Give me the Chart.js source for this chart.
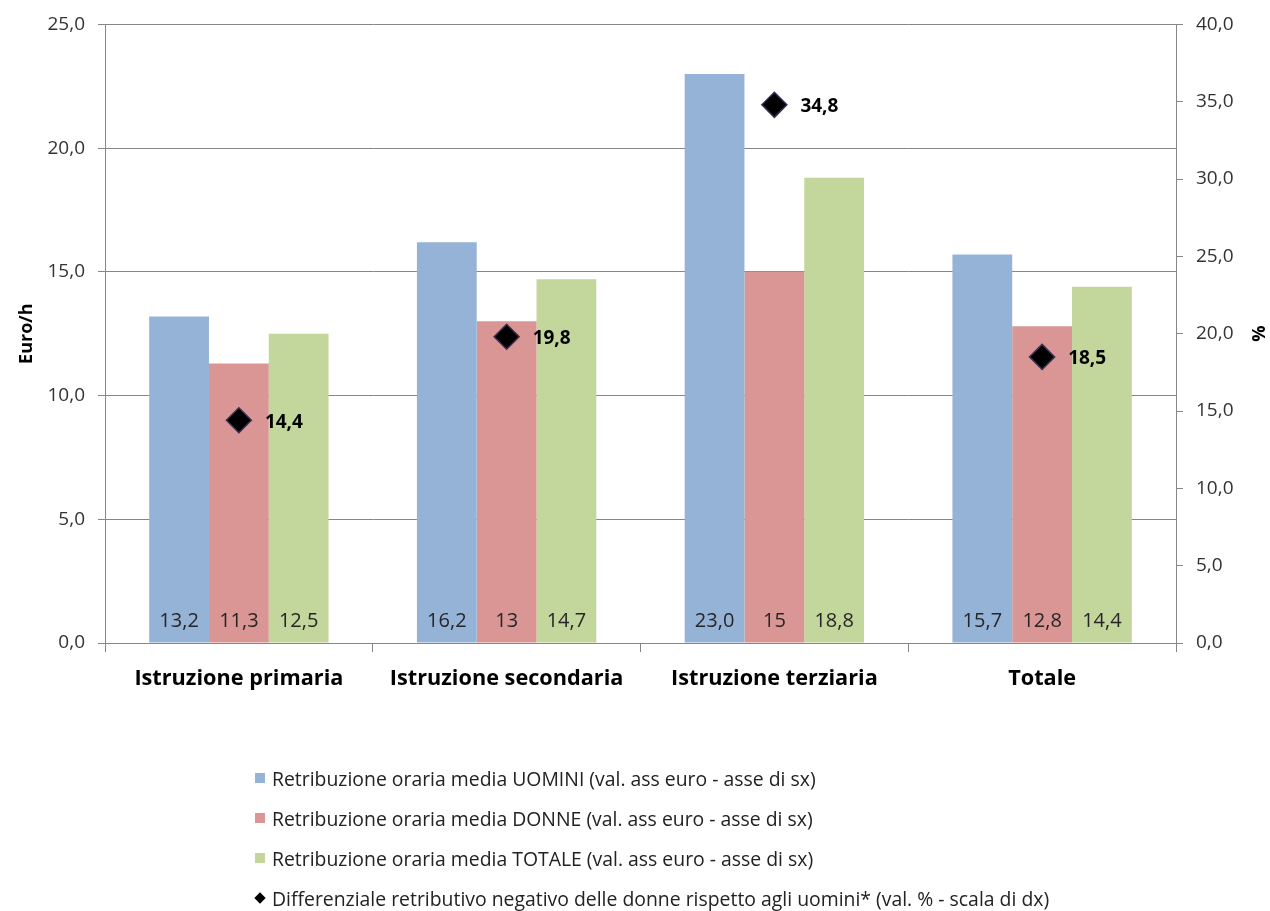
<!DOCTYPE html>
<html lang="it">
<head>
<meta charset="utf-8">
<title>Retribuzione oraria media per titolo di studio</title>
<script src="https://cdn.jsdelivr.net/npm/chart.js@4.4.1/dist/chart.umd.min.js"></script>
<style>
  html, body { margin: 0; padding: 0; background: #fff; }
  #wrap { position: relative; width: 1270px; height: 911px; }
  #chart { position: absolute; left: 0; top: 0; }
  #legend { position: absolute; left: 255px; top: 758px; font-family: "Open Sans", Lato, sans-serif; font-size: 19.4px; color: #222; }
  #legend .row { height: 40px; display: flex; align-items: center; white-space: nowrap; }
  #legend .sq { width: 10px; height: 10px; margin-right: 7px; flex: none; }
  #legend .dm { width: 8px; height: 8px; margin: 0 8px 0 1px; background: #000; transform: rotate(45deg); flex: none; }
</style>
</head>
<body>
<div id="wrap">
  <canvas id="chart" width="1270" height="911"></canvas>
  <div id="legend"></div>
</div>
<script>
// Categorie (titolo di studio)
const categories = ['Istruzione primaria', 'Istruzione secondaria', 'Istruzione terziaria', 'Totale'];

// Retribuzione oraria media (euro/h) – asse sinistro
const uomini = [13.2, 16.2, 23.0, 15.7];
const donne  = [11.3, 13, 15, 12.8];
const totale = [12.5, 14.7, 18.8, 14.4];

// Differenziale retributivo negativo delle donne (%) – asse destro
const differenziale = [14.4, 19.8, 34.8, 18.5];

// Etichette di serie
const seriesLabels = [
  'Retribuzione oraria media UOMINI (val. ass euro - asse di sx)',
  'Retribuzione oraria media DONNE (val. ass euro - asse di sx)',
  'Retribuzione oraria media TOTALE (val. ass euro - asse di sx)',
  'Differenziale retributivo negativo delle donne rispetto agli uomini* (val. % - scala di dx)'
];

// Assi
const leftAxis  = { min: 0, max: 25, step: 5, title: 'Euro/h' };
const rightAxis = { min: 0, max: 40, step: 5, title: '%' };

const FONT = '"Open Sans", Lato, sans-serif';
const GRID = '#868686';

const fmt1 = v => v.toFixed(1).replace('.', ',');
const fmtRaw = v => String(v).replace('.', ',');

// Valori scritti alla base delle colonne
const barLabels = {
  id: 'barLabels',
  afterDatasetsDraw(chart) {
    const ctx = chart.ctx;
    ctx.save();
    ctx.font = '20px ' + FONT;
    ctx.fillStyle = '#262626';
    ctx.textAlign = 'center';
    ctx.textBaseline = 'middle';
    chart.data.datasets.forEach((ds, i) => {
      if (ds.type === 'line') return;
      const meta = chart.getDatasetMeta(i);
      meta.data.forEach((el, j) => {
        const txt = ds.labelFormat(ds.data[j]);
        ctx.fillText(txt, el.x, el.base - 21);
      });
    });
    ctx.restore();
  }
};

// Valori accanto ai rombi
const pointLabels = {
  id: 'pointLabels',
  afterDatasetsDraw(chart) {
    const ctx = chart.ctx;
    ctx.save();
    ctx.font = 'bold 19px ' + FONT;
    ctx.fillStyle = '#000';
    ctx.textAlign = 'left';
    ctx.textBaseline = 'middle';
    chart.data.datasets.forEach((ds, i) => {
      if (ds.type !== 'line') return;
      const meta = chart.getDatasetMeta(i);
      meta.data.forEach((el, j) => {
        ctx.fillText(fmt1(ds.data[j]), el.x + 26, el.y + 2);
      });
    });
    ctx.restore();
  }
};

const chart = new Chart(document.getElementById('chart'), {
  type: 'bar',
  data: {
    labels: categories,
    datasets: [
      { label: seriesLabels[0], data: uomini, backgroundColor: '#95b3d7', yAxisID: 'y', order: 1, labelFormat: fmt1 },
      { label: seriesLabels[1], data: donne,  backgroundColor: '#d99694', yAxisID: 'y', order: 1, labelFormat: fmtRaw },
      { label: seriesLabels[2], data: totale, backgroundColor: '#c3d69b', yAxisID: 'y', order: 1, labelFormat: fmt1 },
      {
        type: 'line', label: seriesLabels[3], data: differenziale, yAxisID: 'y1', order: 0,
        showLine: false, pointStyle: 'rectRot', pointRadius: 12.5, pointHoverRadius: 12.5,
        backgroundColor: '#000', borderColor: '#3a3052', borderWidth: 1.5
      }
    ]
  },
  options: {
    responsive: false,
    animation: false,
    events: [],
    barPercentage: 1,
    categoryPercentage: 0.67,
    layout: { padding: { top: 22, bottom: 208, left: 0, right: 0 } },
    plugins: { legend: { display: false }, tooltip: { enabled: false } },
    scales: {
      x: {
        offset: true,
        grid: { offset: true, drawOnChartArea: false, drawTicks: true, tickLength: 9, color: GRID },
        border: { color: GRID, width: 1 },
        ticks: { font: { family: FONT, size: 21.7, weight: 'bold' }, color: '#000', padding: 14, maxRotation: 0 },
        afterFit(s) { s.height = 60; }
      },
      y: {
        position: 'left',
        min: leftAxis.min, max: leftAxis.max,
        ticks: { stepSize: leftAxis.step, callback: v => fmt1(v), font: { family: FONT, size: 19 }, color: '#333', padding: 13 },
        grid: { color: GRID, tickLength: 7 },
        border: { color: GRID, width: 1 },
        title: { display: true, text: leftAxis.title, font: { family: FONT, size: 18, weight: 'bold' }, color: '#000', padding: { top: 16, bottom: 0 } },
        afterFit(s) { s.width = 105; }
      },
      y1: {
        position: 'right',
        min: rightAxis.min, max: rightAxis.max,
        ticks: { stepSize: rightAxis.step, callback: v => fmt1(v), font: { family: FONT, size: 19 }, color: '#333', padding: 13 },
        grid: { drawOnChartArea: false, color: GRID, tickLength: 7 },
        border: { color: GRID, width: 1 },
        title: { display: true, text: rightAxis.title, font: { family: FONT, size: 18, weight: 'bold' }, color: '#000', padding: { top: 2, bottom: 0 } },
        afterFit(s) { s.width = 94; }
      }
    }
  },
  plugins: [barLabels, pointLabels]
});

// Legenda verticale sotto il grafico
const legend = document.getElementById('legend');
chart.data.datasets.forEach(ds => {
  const row = document.createElement('div');
  row.className = 'row';
  const mark = document.createElement('span');
  if (ds.type === 'line') {
    mark.className = 'dm';
  } else {
    mark.className = 'sq';
    mark.style.background = ds.backgroundColor;
  }
  const txt = document.createElement('span');
  txt.textContent = ds.label;
  row.appendChild(mark);
  row.appendChild(txt);
  legend.appendChild(row);
});
</script>
</body>
</html>
